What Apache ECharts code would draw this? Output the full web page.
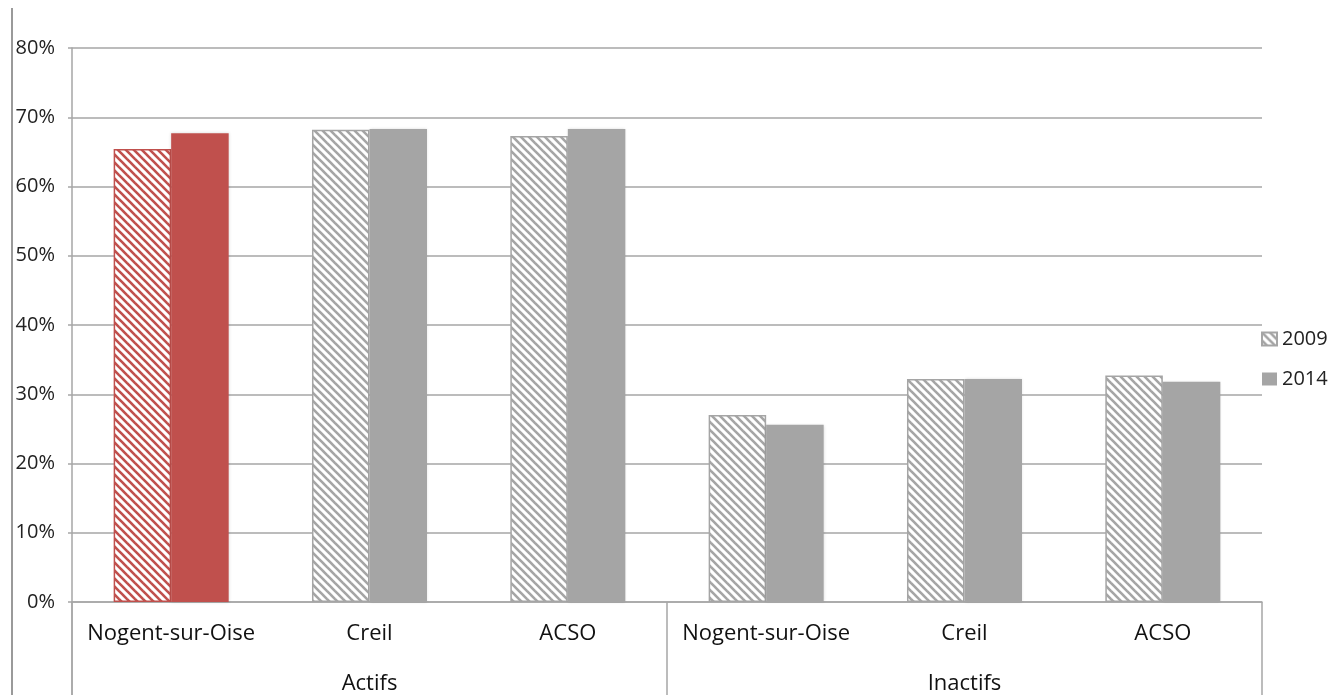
<!DOCTYPE html>
<html><head><meta charset="utf-8">
<script src="https://cdn.jsdelivr.net/npm/echarts@6/dist/echarts.min.js"></script>
<style>html,body{margin:0;padding:0;background:#fff}#c{width:1343px;height:695px}</style>
</head><body><div id="c"></div>
<script>
const categories = ['Nogent-sur-Oise','Creil','ACSO','Nogent-sur-Oise','Creil','ACSO'];
const groups = ['Actifs','Inactifs'];
const seriesNames = ['2009','2014'];
const values2009 = [65.4, 68.2, 67.3, 27.0, 32.2, 32.7];
const values2014 = [67.7, 68.3, 68.3, 25.6, 32.2, 31.8];
const highlightIndex = 0;

function hatch(color){
  const c = document.createElement('canvas');
  c.width = 8; c.height = 8;
  const g = c.getContext('2d');
  g.fillStyle = '#fff'; g.fillRect(0,0,8,8);
  g.strokeStyle = color; g.lineWidth = 2.6;
  for (let k=-8;k<=8;k+=8){ g.beginPath(); g.moveTo(k-2,-2); g.lineTo(k+10,10); g.stroke(); }
  return {image: c, repeat: 'repeat'};
}
const RED = '#c0504d', GRAY = '#a5a5a5';
const hatchGray = hatch(GRAY), hatchRed = hatch(RED);

const d2009 = values2009.map((v,i)=> i===highlightIndex ? {value:v, itemStyle:{color:hatchRed, borderColor:RED}} : v);
const d2014 = values2014.map((v,i)=> i===highlightIndex ? {value:v, itemStyle:{color:RED}} : v);

const font = 'Open Sans';
const chart = echarts.init(document.getElementById('c'));
chart.setOption({
  animation:false,
  textStyle:{fontFamily:font},
  grid:{left:72,right:81,top:48,bottom:93},
  legend:{orient:'vertical',left:1256,top:324,itemWidth:15,itemHeight:13,itemGap:20,
    icon:'rect',textStyle:{fontFamily:font,fontSize:20,color:'#222'},data:seriesNames},
  xAxis:[
    {type:'category',data:categories,position:'bottom',
     axisLine:{show:true,lineStyle:{color:'#a6a6a6',width:1.5}},
     axisTick:{show:false},
     axisLabel:{interval:0,margin:21,fontSize:22,color:'#111',fontFamily:font}},
    {type:'category',data:groups,position:'bottom',
     axisLine:{show:false},
     axisTick:{show:true,length:93,lineStyle:{color:'#a6a6a6',width:1.5}},
     axisLabel:{interval:0,margin:71,fontSize:22,color:'#111',fontFamily:font}}
  ],
  yAxis:{type:'value',min:0,max:80,interval:10,
    axisLine:{show:true,lineStyle:{color:'#a6a6a6',width:1.5}},
    axisTick:{show:true,length:4,lineStyle:{color:'#a6a6a6',width:1.5}},
    splitLine:{lineStyle:{color:'#a6a6a6',width:1.5}},
    axisLabel:{formatter:'{value}%',margin:17,fontSize:20,color:'#222',fontFamily:font}},
  series:[
    {name:'2009',type:'bar',xAxisIndex:0,data:d2009,barGap:'0%',barCategoryGap:'42%',
     itemStyle:{color:hatchGray,borderColor:GRAY,borderWidth:1.5}},
    {name:'2014',type:'bar',xAxisIndex:0,data:d2014,
     itemStyle:{color:GRAY,shadowColor:'rgba(0,0,0,0.15)',shadowBlur:3}}
  ],
  graphic:[
    {type:'line',shape:{x1:12,y1:8,x2:12,y2:695},style:{stroke:'#9a9a9a',lineWidth:2}},
    {type:'line',shape:{x1:72,y1:602,x2:72,y2:695},style:{stroke:'#a6a6a6',lineWidth:1.5}}
  ]
});
</script></body></html>
